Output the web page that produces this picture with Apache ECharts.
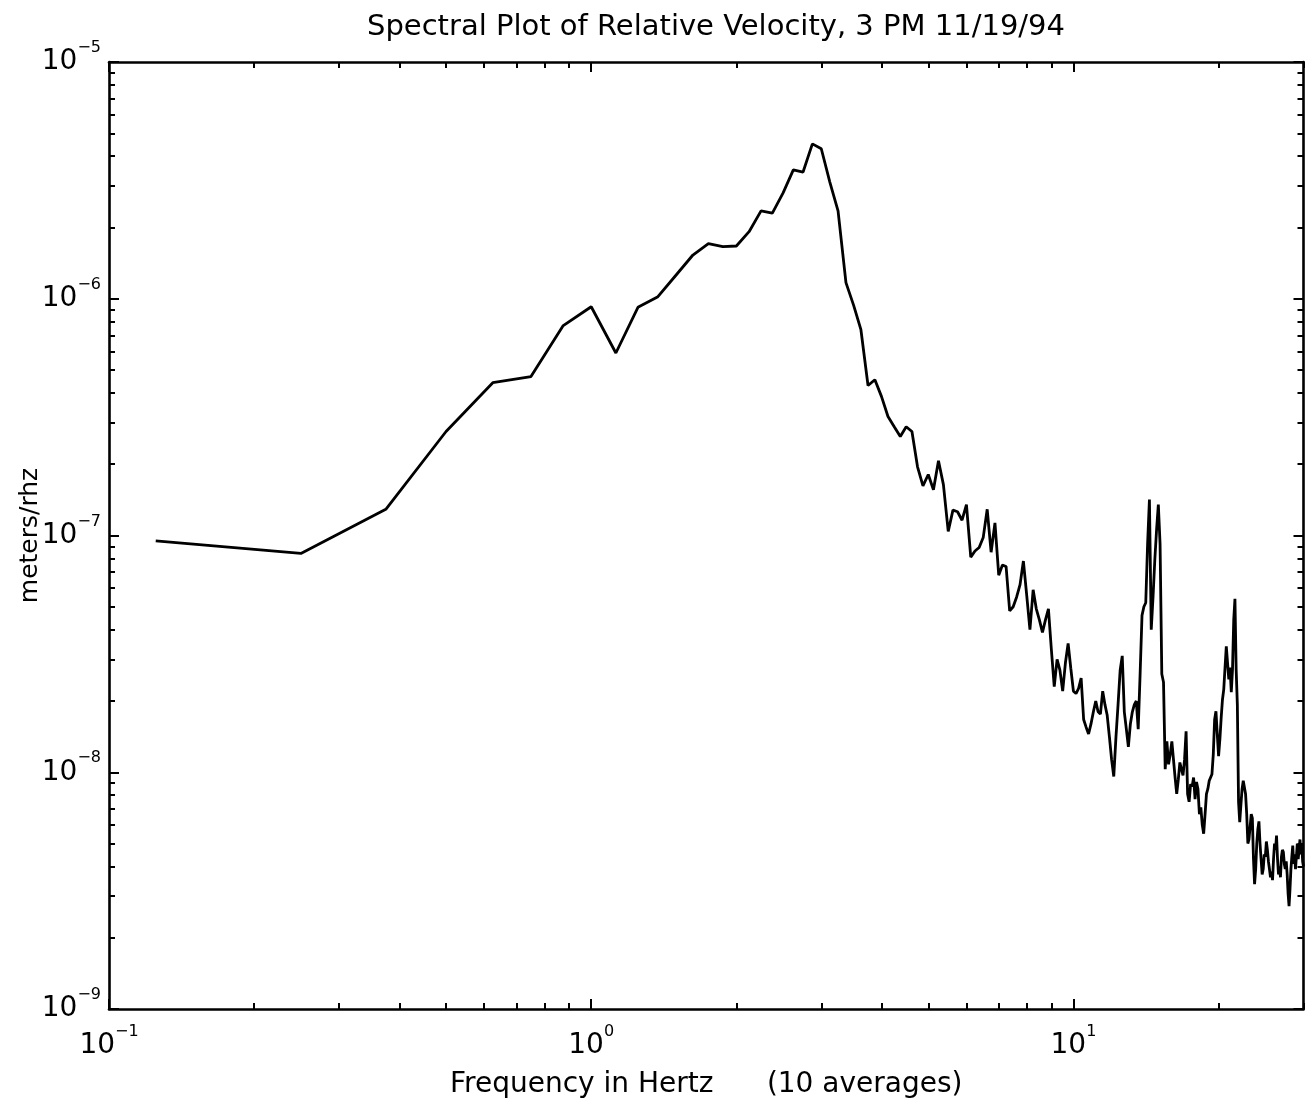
<!DOCTYPE html>
<html><head><meta charset="utf-8">
<script src="https://cdn.jsdelivr.net/npm/echarts@6/dist/echarts.min.js"></script>
<style>html,body{margin:0;padding:0;background:#fff}#chart{width:1307px;height:1106px}</style>
</head><body><div id="chart"></div>
<script>
const titleText = 'Spectral Plot of Relative Velocity, 3 PM 11/19/94';
const xAxisTitle = 'Frequency in Hertz      (10 averages)';
const yAxisTitle = 'meters/rhz';

// FFT bin spacing (Hz); bin k sits at k * binWidthHz
const binWidthHz = 0.125;

// amplitude (m/rhz) per bin, bins 1..26 (0.125 - 3.25 Hz)
const lowBandValues = [
  9.5e-8, 8.4e-8, 1.29e-7, 2.75e-7, 4.42e-7, 4.69e-7, 7.7e-7, 9.25e-7, 5.9e-7, 9.2e-7,
  1.02e-6, 1.26e-6, 1.53e-6, 1.71e-6, 1.66e-6, 1.67e-6, 1.92e-6, 2.35e-6, 2.3e-6, 2.8e-6,
  3.5e-6, 3.43e-6, 4.51e-6, 4.3e-6, 3.11e-6, 2.35e-6
];
// bins 27..80 (3.375 - 10 Hz)
const midBandValues = [
  1.17e-6, 9.4e-7, 7.4e-7, 4.3e-7, 4.55e-7, 3.86e-7, 3.18e-7, 2.88e-7, 2.62e-7, 2.88e-7,
  2.75e-7, 1.95e-7, 1.62e-7, 1.81e-7, 1.56e-7, 2.07e-7, 1.64e-7, 1.04e-7, 1.28e-7, 1.26e-7,
  1.16e-7, 1.35e-7, 8.1e-8, 8.6e-8, 8.9e-8, 9.8e-8, 1.29e-7, 8.5e-8, 1.13e-7, 6.8e-8,
  7.5e-8, 7.4e-8, 4.8e-8, 5.0e-8, 5.5e-8, 6.2e-8, 7.8e-8, 5.6e-8, 4.0e-8, 5.9e-8,
  4.9e-8, 4.4e-8, 3.9e-8, 4.4e-8, 4.9e-8, 3.3e-8, 2.3e-8, 3.0e-8, 2.7e-8, 2.2e-8,
  2.9e-8, 3.5e-8, 2.75e-8, 2.2e-8
];
// bins 81..240 (10.125 - 30 Hz)
const highBandValues = [
  2.15e-8, 2.26e-8, 2.5e-8, 1.67e-8, 1.55e-8, 1.45e-8, 1.6e-8, 1.8e-8, 2.0e-8, 1.8e-8,
  1.76e-8, 2.2e-8, 1.93e-8, 1.74e-8, 1.41e-8, 1.13e-8, 9.6e-9, 1.4e-8, 1.93e-8, 2.7e-8,
  3.1e-8, 1.8e-8, 1.52e-8, 1.28e-8, 1.6e-8, 1.8e-8, 1.93e-8, 2.0e-8, 1.52e-8, 2.6e-8,
  4.6e-8, 5.0e-8, 5.2e-8, 9.2e-8, 1.42e-7, 4.0e-8, 5.5e-8, 7.9e-8, 1.06e-7, 1.35e-7,
  9.2e-8, 2.6e-8, 2.4e-8, 1.03e-8, 1.35e-8, 1.08e-8, 1.19e-8, 1.35e-8, 1.13e-8, 9.5e-9,
  8.1e-9, 9.3e-9, 1.1e-8, 1.03e-8, 9.7e-9, 1.13e-8, 1.49e-8, 8.1e-9, 7.5e-9, 8.9e-9,
  8.7e-9, 9.5e-9, 7.7e-9, 9.1e-9, 8.5e-9, 6.65e-9, 7.1e-9, 6.0e-9, 5.5e-9, 6.65e-9,
  8.1e-9, 8.5e-9, 9.2e-9, 9.5e-9, 9.8e-9, 1.19e-8, 1.67e-8, 1.81e-8, 1.45e-8, 1.17e-8,
  1.38e-8, 1.7e-8, 2.03e-8, 2.24e-8, 2.77e-8, 3.4e-8, 2.9e-8, 2.47e-8, 2.77e-8, 2.18e-8,
  2.72e-8, 4.4e-8, 5.4e-8, 2.72e-8, 1.93e-8, 7.5e-9, 6.15e-9, 7.3e-9, 8.5e-9, 9.2e-9,
  9.1e-9, 8.1e-9, 6.65e-9, 5.0e-9, 5.2e-9, 5.9e-9, 6.65e-9, 6.4e-9, 4.3e-9, 3.37e-9,
  3.9e-9, 5.0e-9, 5.75e-9, 6.2e-9, 5.0e-9, 4.3e-9, 3.7e-9, 3.9e-9, 4.5e-9, 4.4e-9,
  5.1e-9, 4.7e-9, 4.2e-9, 3.9e-9, 3.6e-9, 3.8e-9, 3.5e-9, 4.3e-9, 5.0e-9, 4.7e-9,
  5.4e-9, 4.3e-9, 3.7e-9, 4.0e-9, 3.6e-9, 4.4e-9, 4.7e-9, 4.6e-9, 4.1e-9, 3.9e-9,
  4.2e-9, 3.7e-9, 3.06e-9, 2.72e-9, 3.2e-9, 3.9e-9, 4.4e-9, 4.9e-9, 4.1e-9, 4.5e-9,
  3.9e-9, 4.4e-9, 5.0e-9, 4.3e-9, 4.7e-9, 5.2e-9, 4.5e-9, 5.0e-9, 4.2e-9, 4.0e-9
];

// axis ranges and tick positions
const xRange = [0.1, 30];
const yRange = [1e-9, 1e-5];
const xMajorTicks = [0.1, 1, 10];
const xMinorTicks = [0.2, 0.3, 0.4, 0.5, 0.6, 0.7, 0.8, 0.9, 2, 3, 4, 5, 6, 7, 8, 9, 20, 30];
const yMajorTicks = [1e-9, 1e-8, 1e-7, 1e-6, 1e-5];
const yMinorTicks = [
  2e-9, 3e-9, 4e-9, 5e-9, 6e-9, 7e-9, 8e-9, 9e-9,
  2e-8, 3e-8, 4e-8, 5e-8, 6e-8, 7e-8, 8e-8, 9e-8,
  2e-7, 3e-7, 4e-7, 5e-7, 6e-7, 7e-7, 8e-7, 9e-7,
  2e-6, 3e-6, 4e-6, 5e-6, 6e-6, 7e-6, 8e-6, 9e-6
];

const FONT = 'DejaVu Sans';
const allValues = lowBandValues.concat(midBandValues, highBandValues);
const seriesData = allValues.map((v, i) => [(i + 1) * binWidthHz, v]);

function powLabel(v) {
  const e = Math.round(Math.log10(v));
  return '{b|10}{s|' + (e < 0 ? '\u2212' + (-e) : String(e)) + '}';
}
const richLabel = {
  b: { fontFamily: FONT, fontSize: 28, lineHeight: 44, color: '#000' },
  s: { fontFamily: FONT, fontSize: 16, lineHeight: 16, verticalAlign: 'top', color: '#000' }
};
const lineStyle = { color: '#000', width: 2.6 };

function makeAxis(kind, position, ticks, len, main) {
  const isX = kind === 'x';
  const range = isX ? xRange : yRange;
  return {
    type: 'log', logBase: 10, position: position, min: range[0], max: range[1],
    axisLine: { show: main, onZero: false, lineStyle: lineStyle },
    axisTick: { show: true, inside: true, length: len, customValues: ticks, lineStyle: { color: '#000', width: 2 } },
    splitLine: { show: false }, minorTick: { show: false }, minorSplitLine: { show: false },
    axisLabel: { show: false }
  };
}

const xAxes = [
  makeAxis('x', 'bottom', xMajorTicks, 10, true),
  makeAxis('x', 'bottom', xMinorTicks, 6, false),
  makeAxis('x', 'top', xMajorTicks, 10, true),
  makeAxis('x', 'top', xMinorTicks, 6, false)
];
xAxes[0].axisLabel = { show: true, customValues: xMajorTicks, margin: 15, formatter: powLabel, rich: richLabel };
xAxes[0].name = xAxisTitle;
xAxes[0].nameLocation = 'middle';
xAxes[0].nameGap = 62;
xAxes[0].nameMoveOverlap = false;
xAxes[0].nameTextStyle = { fontFamily: FONT, fontSize: 28, color: '#000' };

const yAxes = [
  makeAxis('y', 'left', yMajorTicks, 10, true),
  makeAxis('y', 'left', yMinorTicks, 6, false),
  makeAxis('y', 'right', yMajorTicks, 10, true),
  makeAxis('y', 'right', yMinorTicks, 6, false)
];
yAxes[0].axisLabel = { show: true, customValues: yMajorTicks, margin: 8, formatter: powLabel, rich: richLabel };
yAxes[0].name = yAxisTitle;
yAxes[0].nameLocation = 'middle';
yAxes[0].nameGap = 66;
yAxes[0].nameMoveOverlap = false;
yAxes[0].nameTextStyle = { fontFamily: FONT, fontSize: 25, color: '#000' };

const chart = echarts.init(document.getElementById('chart'), null, { renderer: 'canvas' });
chart.setOption({
  animation: false,
  backgroundColor: '#fff',
  title: {
    text: titleText, left: 716, top: 13, padding: 0, textAlign: 'center',
    textStyle: { fontFamily: FONT, fontSize: 29, fontWeight: 'normal', color: '#000' }
  },
  grid: { left: 109, right: 3.5, top: 62, bottom: 97, containLabel: false },
  xAxis: xAxes,
  yAxis: yAxes,
  series: [{
    type: 'line', xAxisIndex: 0, yAxisIndex: 0, data: seriesData,
    symbol: 'none', showSymbol: false, smooth: false, clip: true,
    lineStyle: { color: '#000', width: 2.8 }, silent: true
  }]
});
</script>
</body></html>
